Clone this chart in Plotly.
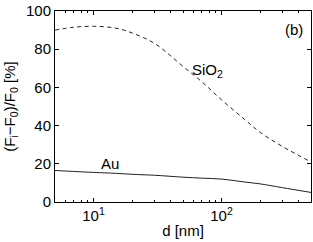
import plotly.graph_objects as go

d_nm = [5, 7, 10, 15, 20, 30, 50, 70, 100, 150, 200, 300, 500]
sio2 = [90, 91.5, 92, 91, 88.5, 83, 71, 63, 53.5, 43.5, 36.5, 29, 21]
au = [16.5, 16, 15.5, 15, 14.5, 14, 13, 12.5, 12, 10.5, 9.5, 7.5, 5]

x_tickvals = [10, 100]
x_ticktext = ["10<sup>1</sup>", "10<sup>2</sup>"]
y_tickvals = [0, 20, 40, 60, 80, 100]
x_minor = [5, 6, 7, 8, 9, 20, 30, 40, 50, 60, 70, 80, 90, 200, 300, 400, 500]

font = dict(family="Liberation Sans, Arial, sans-serif", size=15, color="black")

fig = go.Figure()
fig.add_trace(go.Scatter(x=d_nm, y=sio2, mode="lines", line=dict(color="#222", width=1, dash="4px,3.5px"),
                         line_shape="spline", showlegend=False))
fig.add_trace(go.Scatter(x=d_nm, y=au, mode="lines", line=dict(color="#222", width=1),
                         line_shape="spline", showlegend=False))

fig.add_annotation(x=0.975, y=0.96, xref="paper", yref="paper", text="(b)", showarrow=False,
                   xanchor="right", yanchor="top", font=font)
fig.add_annotation(x=1.887, y=69, xref="x", yref="y", text="SiO<sub>2</sub>", showarrow=False,
                   xanchor="center", yanchor="middle", font=font)
fig.add_annotation(x=1.13, y=20, xref="x", yref="y", text="Au", showarrow=False,
                   xanchor="center", yanchor="middle", font=font)

fig.update_layout(
    width=313, height=242,
    margin=dict(l=55, r=2, t=11, b=40, autoexpand=False),
    paper_bgcolor="white", plot_bgcolor="white",
    font=font,
    xaxis=dict(type="log", range=[0.69897, 2.69897], tickvals=x_tickvals, ticktext=x_ticktext,
               ticks="inside", ticklen=4, tickcolor="black", showline=True, linecolor="black",
               linewidth=1, mirror="allticks", showgrid=False, zeroline=False, automargin=False,
               minor=dict(tickvals=x_minor, ticks="inside", ticklen=2, tickcolor="black", showgrid=False),
               title=dict(text="d [nm]", standoff=2, font=font), tickfont=font),
    yaxis=dict(range=[0, 100], tickvals=y_tickvals, ticks="inside", ticklen=4, tickcolor="black",
               showline=True, linecolor="black", linewidth=1, mirror="allticks", showgrid=False,
               zeroline=False, automargin=False,
               title=dict(text="(F<sub>i</sub>−F<sub>0</sub>)/F<sub>0</sub> [%]", standoff=6, font=font),
               tickfont=font),
)

fig.write_html("out.html", config={"displayModeBar": False},
               post_script="document.body.style.margin='0';document.body.style.padding='0';")
